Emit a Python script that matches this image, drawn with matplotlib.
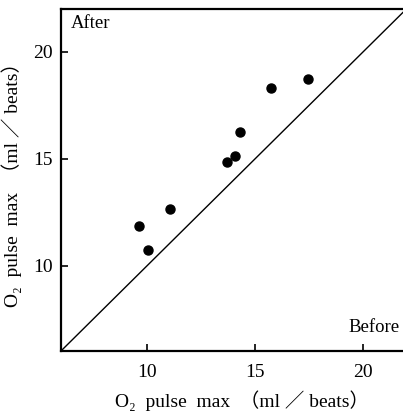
import numpy as np
import matplotlib
matplotlib.use('Agg')
import matplotlib.pyplot as plt
from matplotlib.ticker import FixedLocator

# data ----------------------------------------------------
before = [9.64, 10.05, 11.06, 13.69, 14.09, 14.31, 15.73, 17.44]
after = [11.85, 10.75, 12.65, 14.83, 15.13, 16.25, 18.29, 18.74]
ticks = [10, 15, 20]
tick_labels = ['10', '15', '20']
lo, hi = 6, 22

# plot ----------------------------------------------------
plt.rcParams['font.family'] = ['Liberation Serif', 'Noto Sans CJK JP']

fig = plt.figure(figsize=(4.03, 4.16), dpi=100)
ax = fig.add_axes([0.151, 0.156, 0.849, 0.822])

# identity line and points:
ax.plot([lo, hi], [lo, hi], 'k-', lw=1.0)
ax.plot(before, after, 'ko', ms=6.5, mec='k')

ax.set_xlim(lo, 21.85)
ax.set_ylim(lo, hi)
ax.xaxis.set_major_locator(FixedLocator(ticks))
ax.yaxis.set_major_locator(FixedLocator(ticks))
ax.set_xticklabels(tick_labels)
ax.set_yticklabels(tick_labels)
ax.tick_params(direction='in', length=5, width=1.2, labelsize=14, pad=9)
ax.tick_params('y', pad=6)
ax.spines['right'].set_visible(False)
for s in ['left', 'bottom', 'top']:
    ax.spines[s].set_linewidth(1.6)

label = 'O\u2082  pulse  max  （ml ／ beats）'
ax.set_xlabel(label, fontsize=14, labelpad=6)
ax.xaxis.set_label_coords(0.53, -0.115)
ax.set_ylabel(label, fontsize=14, labelpad=8)

ax.text(6.45, 21.35, 'After', fontsize=13.5, ha='left', va='center')
ax.text(21.7, 7.1, 'Before', fontsize=13.5, ha='right', va='center')

plt.savefig('out.png', dpi=100)
